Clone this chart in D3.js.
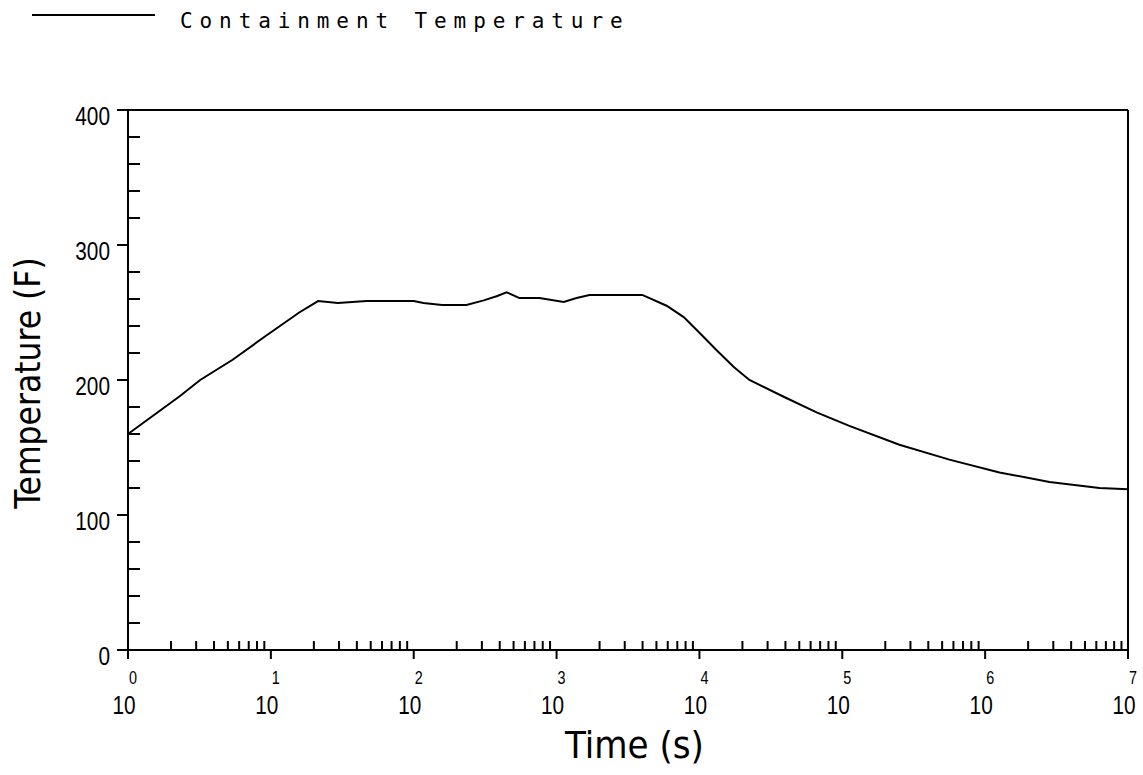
<!DOCTYPE html>
<html>
<head>
<meta charset="utf-8">
<script src="https://cdn.jsdelivr.net/npm/d3@7"></script>
<style>
  html, body { margin: 0; padding: 0; background: #fff; }
  svg { display: block; }
  text { fill: #000; }
</style>
</head>
<body>
<svg id="chart" width="1143" height="775"></svg>
<script>
// ---- data ----
const timeSeconds = [1, 2.3, 3.2, 5.4, 9.3, 15.8, 21.4, 29.5, 46.8, 100, 117, 158, 234, 309, 380, 447, 550, 759,
  1122, 1380, 1700, 3980, 5890, 7760, 10000, 13200, 17400, 22400, 38900, 66100, 112000, 251000, 562000,
  1260000, 2820000, 6310000, 10000000];
const temperatureF = [160, 188, 200, 215, 233, 250, 258.5, 257, 258.5, 258.5, 257, 255.5, 255.5, 259, 262, 265, 260.7, 260.7,
  257.8, 260.7, 263, 263, 255, 246.6, 235, 222, 209.7, 200, 187.6, 176, 166, 152, 141,
  131.5, 124.5, 120, 119];
const xExponents = [0, 1, 2, 3, 4, 5, 6, 7];
const yTickValues = [0, 100, 200, 300, 400];
const seriesName = "Containment Temperature";
const xTitle = "Time (s)";
const yTitle = "Temperature (F)";

// ---- layout ----
const svg = d3.select("#chart");
const L = 128, R = 1128, T = 110, B = 650;
const FONT = "'DejaVu Sans Condensed', 'Liberation Sans', sans-serif";
const TICKFONT = "'Liberation Sans', 'DejaVu Sans Condensed', sans-serif";

const x = d3.scaleLog().domain([1, 1e7]).range([L, R]);
const y = d3.scaleLinear().domain([0, 400]).range([B, T]);

function narrowText(parent, px, py, str, size, anchor, sx) {
  const gg = parent.append("g").attr("transform", `translate(${px},${py}) scale(${sx},1)`);
  gg.append("text").attr("x", 0).attr("y", 0).attr("text-anchor", anchor)
    .style("font-family", TICKFONT).style("font-size", size + "px").text(str);
  return gg;
}

const g = svg.append("g").attr("stroke", "#000").attr("fill", "none");

// frame
g.append("line").attr("x1", L - 11).attr("x2", R).attr("y1", T).attr("y2", T).attr("stroke-width", 2);
g.append("line").attr("x1", L - 11).attr("x2", R).attr("y1", B).attr("y2", B).attr("stroke-width", 2);
g.append("line").attr("x1", L).attr("x2", L).attr("y1", T).attr("y2", B + 9).attr("stroke-width", 2);
g.append("line").attr("x1", R).attr("x2", R).attr("y1", T).attr("y2", B + 9).attr("stroke-width", 2);

// y ticks
const yMinor = d3.range(0, 401, 20).filter(v => v % 100 !== 0);
g.selectAll(".ymin").data(yMinor).enter().append("line")
  .attr("x1", L).attr("x2", L + 12).attr("y1", d => y(d)).attr("y2", d => y(d)).attr("stroke-width", 2);
g.selectAll(".ymaj").data(yTickValues).enter().append("line")
  .attr("x1", L - 11).attr("x2", L).attr("y1", d => y(d)).attr("y2", d => y(d)).attr("stroke-width", 2);

yTickValues.forEach(v => narrowText(svg, 110, y(v) + 15, String(v), 26, "end", 0.8));

// x ticks
const xMinor = [];
for (let e = 0; e < 7; e++) for (let m = 2; m <= 9; m++) xMinor.push(m * Math.pow(10, e));
g.selectAll(".xmin").data(xMinor).enter().append("line")
  .attr("x1", d => x(d)).attr("x2", d => x(d)).attr("y1", B).attr("y2", B - 9).attr("stroke-width", 2);
g.selectAll(".xmaj").data(xExponents).enter().append("line")
  .attr("x1", d => x(Math.pow(10, d))).attr("x2", d => x(Math.pow(10, d)))
  .attr("y1", B).attr("y2", B + 9).attr("stroke-width", 2);

xExponents.forEach(e => {
  const px = x(Math.pow(10, e));
  narrowText(svg, px - 4, 714, "10", 26, "middle", 0.8);
  narrowText(svg, px + 5, 684, String(e), 18, "middle", 0.8);
});

// titles
svg.append("text")
  .attr("x", 565).attr("y", 758)
  .style("font-family", FONT).style("font-size", "38px")
  .text(xTitle);
svg.append("text")
  .attr("transform", "translate(40,383) rotate(-90)")
  .attr("text-anchor", "middle")
  .style("font-family", FONT).style("font-size", "35px")
  .text(yTitle);

// series line
const line = d3.line().x((d, i) => x(timeSeconds[i])).y(d => y(d));
svg.append("path")
  .datum(temperatureF)
  .attr("d", line)
  .attr("fill", "none").attr("stroke", "#000").attr("stroke-width", 2);

// legend
svg.append("line").attr("x1", 32).attr("x2", 155).attr("y1", 15).attr("y2", 15)
  .attr("stroke", "#000").attr("stroke-width", 2);
svg.append("text")
  .attr("x", 180).attr("y", 28)
  .style("font-family", "'DejaVu Sans Mono', 'Liberation Mono', monospace")
  .style("font-size", "21px")
  .style("letter-spacing", "6.9px")
  .text(seriesName);
</script>
</body>
</html>
